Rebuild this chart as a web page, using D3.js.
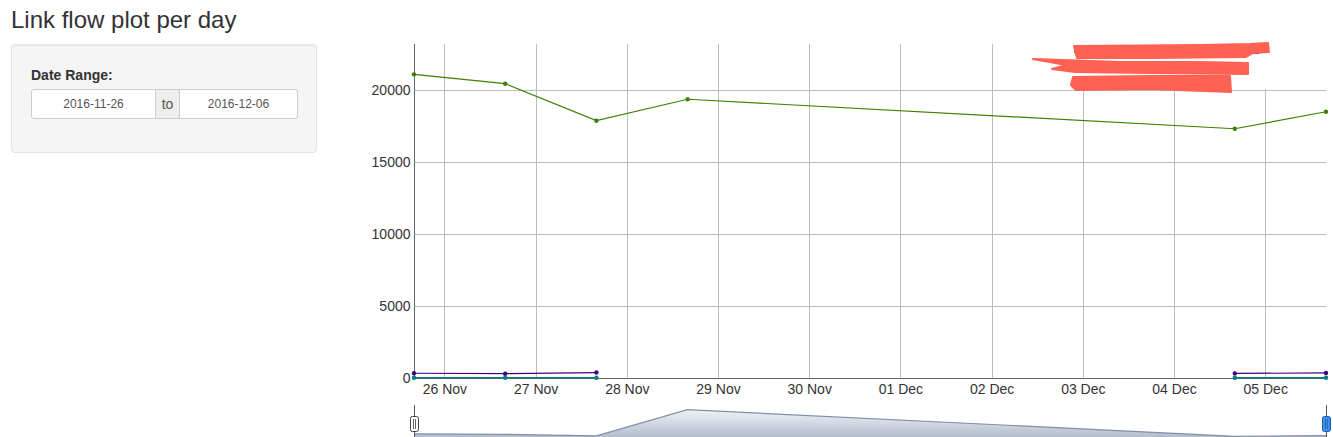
<!DOCTYPE html>
<html>
<head>
<meta charset="utf-8">
<script src="https://cdn.jsdelivr.net/npm/d3@7"></script>
<style>
  body { margin: 0; width: 1333px; height: 437px; overflow: hidden; background: #fff;
         font-family: "Liberation Sans", Arial, sans-serif; color: #333; position: relative; }
  h3 { position: absolute; left: 11px; top: 6px; margin: 0; font-size: 24px; font-weight: normal; }
  .well { position: absolute; left: 11px; top: 44px; width: 304px; height: 107px;
          background: #f5f5f5; border: 1px solid #e3e3e3; border-radius: 4px;
          box-shadow: inset 0 1px 1px rgba(0,0,0,.05); }
  .well label { position: absolute; left: 19px; top: 22px; font-size: 14px; font-weight: bold; }
  .ig { position: absolute; left: 19px; top: 44px; height: 30px; display: flex; }
  .ig div { box-sizing: border-box; height: 30px; line-height: 28px; font-size: 12px; color: #555;
            text-align: center; border: 1px solid #ccc; background: #fff; }
  .ig .a { width: 125px; border-radius: 3px 0 0 3px; }
  .ig .to { width: 23px; background: #eee; font-size: 14px; border-left: 0; border-right: 0; }
  .ig .b { width: 119px; border-radius: 0 3px 3px 0; }
  svg { position: absolute; left: 0; top: 0; }
</style>
</head>
<body>
<h3>Link flow plot per day</h3>
<div class="well">
  <label>Date Range:</label>
  <div class="ig"><div class="a">2016-11-26</div><div class="to">to</div><div class="b">2016-12-06</div></div>
</div>
<svg id="chart" width="1333" height="437"></svg>
<script>
"use strict";

// sample times (UTC)
var dates = ["2016-11-25T16:00Z", "2016-11-26T16:00Z", "2016-11-27T16:00Z",
             "2016-11-28T16:00Z", "2016-12-04T16:00Z", "2016-12-05T16:00Z"];
// series values, null = missing
var flowA = [21110, 20460, 17890, 19380, 17330, 18510];
var flowB = [330, 300, 380, null, 320, 350];
var flowC = [20, 20, 20, null, 20, 20];
var seriesColors = ["#408000", "#400080", "#008080"];
var yTicks = [0, 5000, 10000, 15000, 20000];

// redacted legend scribbles (page pixels)
var scribbles = [
  [[1074,46],[1200,45],[1250,44],[1268,43],[1269,52],[1253,53],[1246,57],[1150,58],[1077,58]],
  [[1033,59],[1120,62],[1200,62],[1248,63],[1248,74],[1150,73],[1075,72],[1052,69],[1066,65]],
  [[1073,77],[1150,76],[1230,76],[1231,92],[1150,89],[1076,90],[1071,85]]
];

var svg = d3.select("#chart");
var plot = { left: 414, right: 1326, top: 44, bottom: 378 };

var times = dates.map(function (d) { return new Date(d); });
var series = [flowA, flowB, flowC];

var xScale = d3.scaleUtc()
    .domain(d3.extent(times))
    .range([plot.left, plot.right]);

var yMax = d3.max(flowA) * 1.1;
var yScale = d3.scaleLinear()
    .domain([0, yMax])
    .range([plot.bottom, plot.top]);

var dayTicks = d3.utcDay.range(d3.utcDay.ceil(times[0]), times[times.length - 1]);

// grid
var grid = svg.append("g").attr("stroke", "#bdbdbd").attr("stroke-width", 1);
grid.selectAll(".vg").data(dayTicks).enter().append("line")
    .attr("x1", function (d) { return Math.round(xScale(d)) + 0.5; })
    .attr("x2", function (d) { return Math.round(xScale(d)) + 0.5; })
    .attr("y1", plot.top).attr("y2", plot.bottom);
grid.selectAll(".hg").data(yTicks.slice(1)).enter().append("line")
    .attr("x1", plot.left).attr("x2", plot.right)
    .attr("y1", function (d) { return Math.round(yScale(d)) + 0.5; })
    .attr("y2", function (d) { return Math.round(yScale(d)) + 0.5; });

// axes
var yAxis = d3.axisLeft(yScale).tickValues(yTicks).tickSize(0).tickPadding(4)
    .tickFormat(d3.format("d"));
var gy = svg.append("g").attr("transform", "translate(" + (plot.left + 0.5) + ",0)").call(yAxis);
var xAxis = d3.axisBottom(xScale).tickValues(dayTicks).tickSize(0).tickPadding(6)
    .tickFormat(d3.utcFormat("%d %b"));
var gx = svg.append("g").attr("transform", "translate(0," + (plot.bottom + 0.5) + ")").call(xAxis);
[gx, gy].forEach(function (g) {
    g.select(".domain").attr("stroke", "#666");
    g.selectAll("text").attr("fill", "#333").style("font-size", "14px")
        .style("font-family", "'Liberation Sans', Arial, sans-serif");
});
gy.select(".domain").attr("d", "M0," + plot.top + "V" + (plot.bottom + 0.5));
gx.select(".domain").attr("d", "M" + plot.left + ",0H" + plot.right);

// lines and points
series.forEach(function (vals, i) {
    var pts = vals.map(function (v, j) { return { t: times[j], v: v }; });
    var line = d3.line()
        .defined(function (d) { return d.v !== null; })
        .x(function (d) { return xScale(d.t); })
        .y(function (d) { return yScale(d.v); });
    svg.append("path").datum(pts)
        .attr("fill", "none").attr("stroke", seriesColors[i]).attr("stroke-width", 1.2)
        .attr("d", line);
    svg.selectAll(".p" + i).data(pts.filter(function (d) { return d.v !== null; }))
        .enter().append("circle")
        .attr("cx", function (d) { return xScale(d.t); })
        .attr("cy", function (d) { return yScale(d.v); })
        .attr("r", 2.2).attr("fill", seriesColors[i]);
});

// legend box (redacted)
svg.append("rect").attr("x", 1073).attr("y", plot.top).attr("width", 250).attr("height", 45)
    .attr("fill", "#fff");
svg.append("rect").attr("x", 1074).attr("y", 50).attr("width", 3).attr("height", 3).attr("fill", seriesColors[0]);
svg.append("rect").attr("x", 1254).attr("y", 52).attr("width", 5).attr("height", 2).attr("fill", seriesColors[1]);
svg.append("rect").attr("x", 1076).attr("y", 87).attr("width", 4).attr("height", 3).attr("fill", seriesColors[2]);
svg.selectAll(".scribble").data(scribbles).enter().append("path")
    .attr("d", function (d) { return d3.line().curve(d3.curveLinearClosed)(d); })
    .attr("fill", "#ff6153").attr("stroke", "#ff6153").attr("stroke-width", 2)
    .attr("stroke-linejoin", "round");

// range selector: combined (average) series
var combined = times.map(function (t, j) {
    var vs = series.map(function (s) { return s[j]; }).filter(function (v) { return v !== null; });
    return { t: t, v: d3.mean(vs) };
});
var cMin = d3.min(combined, function (d) { return d.v; });
var cMax = d3.max(combined, function (d) { return d.v; });
var extra = (cMax - cMin) * 0.25;
var rs = { top: 403, bottom: 443 };
var ryScale = d3.scaleLinear().domain([cMin - extra, cMax + extra]).range([rs.bottom, rs.top]);

var defs = svg.append("defs");
var grad = defs.append("linearGradient").attr("id", "rsg")
    .attr("gradientUnits", "userSpaceOnUse")
    .attr("x1", 0).attr("y1", rs.top).attr("x2", 0).attr("y2", rs.bottom);
grad.append("stop").attr("offset", 0).attr("stop-color", "#ffffff");
grad.append("stop").attr("offset", 1).attr("stop-color", "#a7b1c4");

var area = d3.area()
    .x(function (d) { return xScale(d.t); })
    .y0(rs.bottom)
    .y1(function (d) { return ryScale(d.v); });
svg.append("path").datum(combined).attr("fill", "url(#rsg)").attr("d", area);
svg.append("path").datum(combined).attr("fill", "none").attr("stroke", "#808fab").attr("stroke-width", 1.2)
    .attr("d", d3.line().x(function (d) { return xScale(d.t); }).y(function (d) { return ryScale(d.v); }));

// foreground edges and handles
[plot.left, plot.right].forEach(function (x, i) {
    svg.append("line").attr("x1", x + 0.5).attr("x2", x + 0.5).attr("y1", 405).attr("y2", 437)
        .attr("stroke", "#555").attr("stroke-width", 1);
    var h = svg.append("g").attr("transform", "translate(" + (x - 4) + ",416)");
    h.append("rect").attr("x", 0.5).attr("y", 0.5).attr("width", 8).attr("height", 15).attr("rx", 2)
        .attr("fill", i === 0 ? "#fff" : "#3d8ee8")
        .attr("stroke", i === 0 ? "#444" : "#1b5fb5");
    [3.5, 5.5].forEach(function (lx) {
        h.append("line").attr("x1", lx).attr("x2", lx).attr("y1", 3).attr("y2", 13)
            .attr("stroke", i === 0 ? "#444" : "#1b5fb5").attr("stroke-width", 0.8);
    });
});
</script>
</body>
</html>
